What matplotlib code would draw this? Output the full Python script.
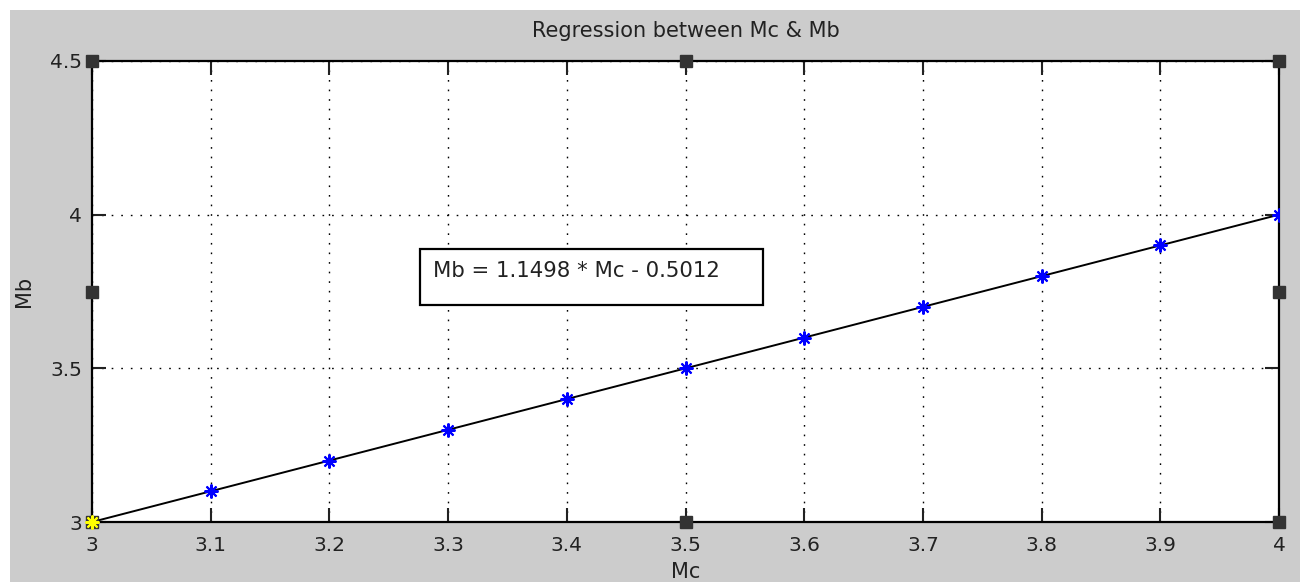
import matplotlib
matplotlib.use('Agg')
import matplotlib.pyplot as plt
from matplotlib.patches import Rectangle

# data
mc = [3.0, 3.1, 3.2, 3.3, 3.4, 3.5, 3.6, 3.7, 3.8, 3.9, 4.0]
mb = [3.0, 3.1, 3.2, 3.3, 3.4, 3.5, 3.6, 3.7, 3.8, 3.9, 4.0]
fit_x = [3.0, 4.0]
fit_y = [3.0, 4.0]
x_ticks = [3, 3.1, 3.2, 3.3, 3.4, 3.5, 3.6, 3.7, 3.8, 3.9, 4]
x_labels = ['3', '3.1', '3.2', '3.3', '3.4', '3.5', '3.6', '3.7', '3.8', '3.9', '4']
y_ticks = [3, 3.5, 4, 4.5]
y_labels = ['3', '3.5', '4', '4.5']
eq_text = 'Mb = 1.1498 * Mc - 0.5012'

plt.rcParams['font.family'] = ['DejaVu Sans']

fig = plt.figure(figsize=(13.08, 5.82), dpi=100)
fig.patch.set_facecolor('white')
# grey matlab figure window
fig.add_artist(Rectangle((10 / 1308, 0), 1290 / 1308, 572 / 582,
                         transform=fig.transFigure, facecolor='#cccccc',
                         edgecolor='none', zorder=-10))

ax = fig.add_axes([92 / 1308, 1 - 522 / 582, 1187 / 1308, 461 / 582])
ax.set_facecolor('white')
ax.set_xlim(3, 4)
ax.set_ylim(3, 4.5)

ax.plot(fit_x, fit_y, color='black', lw=1.4, zorder=3)
ax.plot(mc[1:], mb[1:], ls='none', marker=(8, 2, 0), ms=10, mew=1.5,
        color='blue', zorder=4)
ax.plot(mc[:1], mb[:1], ls='none', marker=(8, 2, 0), ms=10, mew=1.5,
        color='yellow', zorder=6, clip_on=False)

ax.set_xticks(x_ticks)
ax.set_xticklabels(x_labels)
ax.set_yticks(y_ticks)
ax.set_yticklabels(y_labels)
ax.tick_params(direction='in', length=10, width=1.5, top=True, right=True,
               labelsize=14.5, colors='#222222')
ax.tick_params(axis='x', pad=10)
ax.tick_params(axis='y', pad=7)
ax.grid(True, color='black', ls=(0, (1.2, 5.7)), lw=1.0)
for s in ax.spines.values():
    s.set_linewidth(1.6)

ax.set_title('Regression between Mc & Mb', fontsize=15, pad=17, color='#222222')
ax.set_xlabel('Mc', fontsize=15, labelpad=5, color='#222222')
ax.set_ylabel('Mb', fontsize=15, labelpad=12, color='#222222')

# equation box
ax.add_patch(Rectangle((3.2763, 3.706), 0.289, 0.182, facecolor='white',
                       edgecolor='black', lw=1.6, zorder=5))
ax.text(3.2873, 3.8167, eq_text, fontsize=15.3, va='center', ha='left',
        color='#222222', zorder=6)

# selection handles
hx = [3, 3.5, 4, 3, 3.5, 4, 3, 4]
hy = [4.5, 4.5, 4.5, 3, 3, 3, 3.75, 3.75]
ax.plot(hx, hy, ls='none', marker='s', ms=8, color='#333333',
        clip_on=False, zorder=5)

fig.savefig('out.png', dpi=100)
